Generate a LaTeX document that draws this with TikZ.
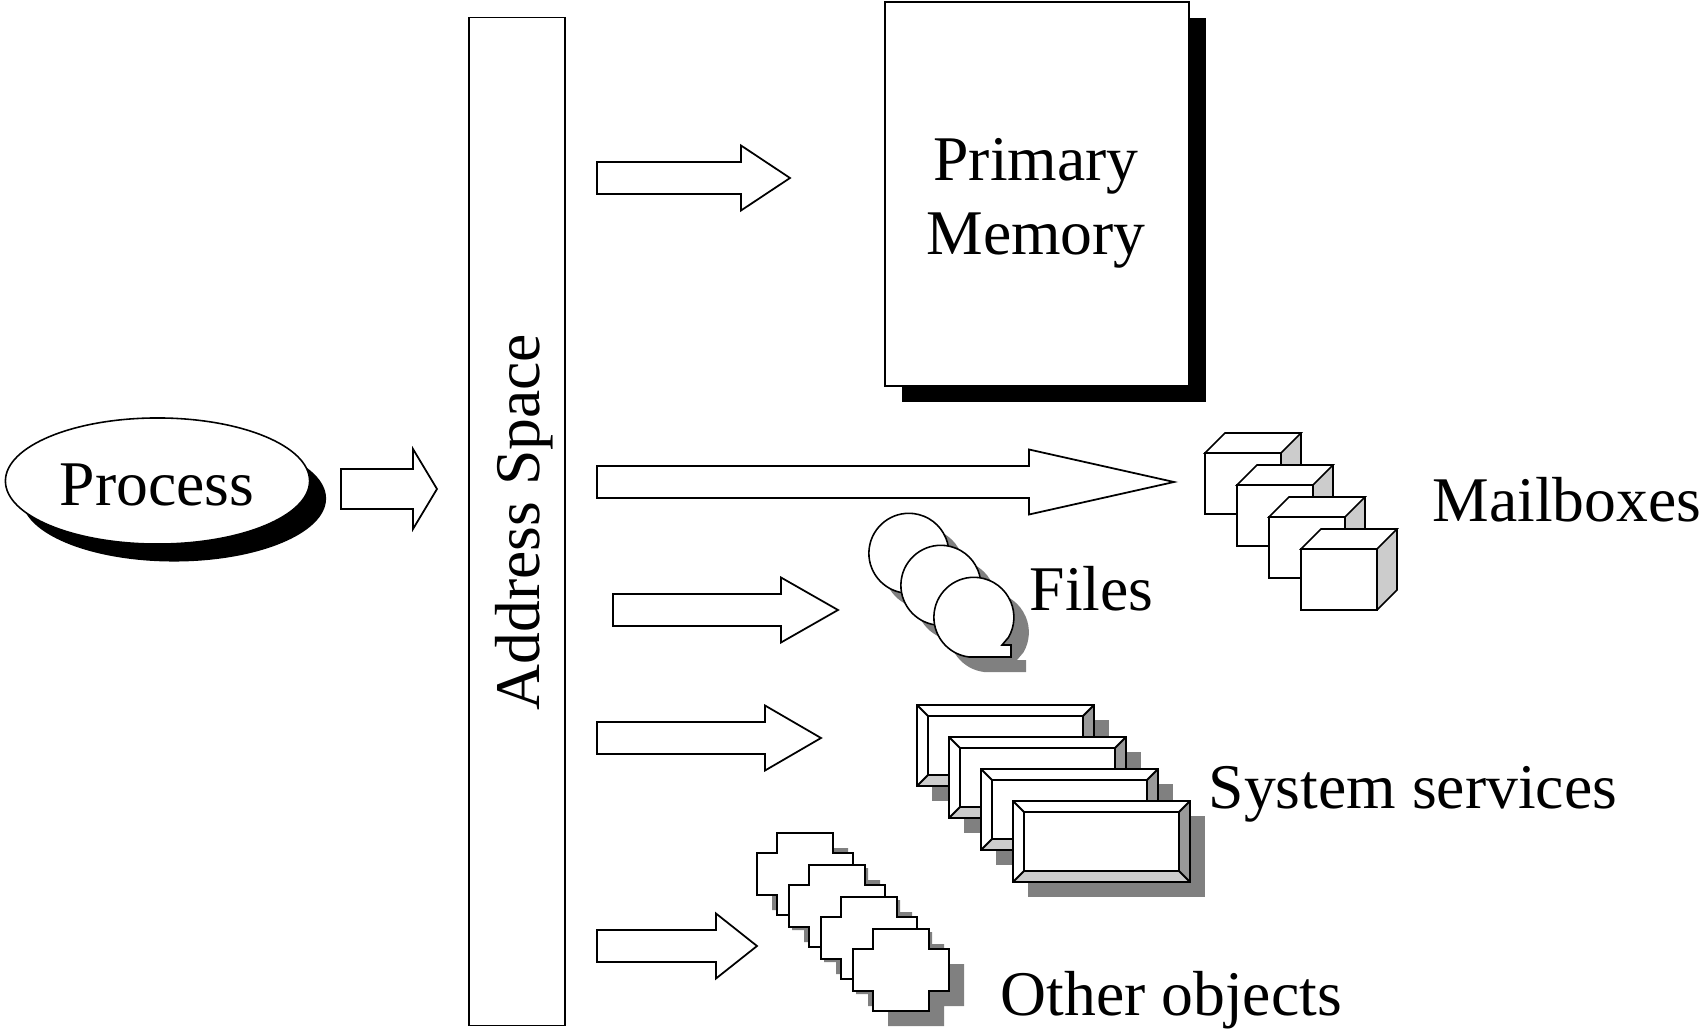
\documentclass[tikz,border=0pt]{standalone}
\usepackage{fontspec}
\setmainfont{Liberation Serif}
\usetikzlibrary{shapes.geometric}
\begin{document}
\begin{tikzpicture}
[x=0.01cm,y=0.01cm,
  line join=miter,
  outlinedecorate/.style={draw=black,line width=0.45pt,fill=white},
  framedecorate/.style={draw=black,line width=0.55pt},
  shadowdecorate/.style={fill=black!50},
  labeldecorate/.style={font=\fontsize{18.1}{21}\selectfont,inner sep=0pt}]
\useasboundingbox (0,0) rectangle (1701,-1031);
%% process and address space
\node (processshadow) at (174,-498.5) [ellipse,fill=black,minimum width=3.04cm,minimum height=1.26cm,inner sep=0pt] {};
\node (process) at (157.5,-481) [ellipse,outlinedecorate,minimum width=3.04cm,minimum height=1.26cm,inner sep=0pt] {};
\node (processlabel) at (157,-485) [labeldecorate] {Process};
\node (addressspace) at (517,-521.5) [rectangle,outlinedecorate,minimum width=0.96cm,minimum height=10.07cm,inner sep=0pt] {};
\node (addresslabel) at (524,-522) [rotate=90,labeldecorate] {Address Space};
%% primary memory
\node (memoryshadow) at (1054,-210) [rectangle,fill=black,minimum width=3.04cm,minimum height=3.84cm,inner sep=0pt] {};
\node (memory) at (1037,-194) [rectangle,outlinedecorate,minimum width=3.04cm,minimum height=3.84cm,inner sep=0pt] {};
\node (memorylabel) at (1036,-203) [labeldecorate,align=center] {Primary\\Memory};
%% block arrows
\foreach \xstart/\xhead/\xtip/\ymid/\shaft/\head in {
  341/413/437/489/20/40, 597/741/790/178/16/32.5, 597/1029/1174/482/16/32.5,
  613/781/838/610/16/32.5, 597/765/821/738/16/32.5, 597/716/757/946/16/32.5} {
  \draw[outlinedecorate,line width=0.5pt] (\xstart,-\ymid+\shaft) -- (\xhead,-\ymid+\shaft) -- (\xhead,-\ymid+\head)
    -- (\xtip,-\ymid) -- (\xhead,-\ymid-\head) -- (\xhead,-\ymid-\shaft) -- (\xstart,-\ymid-\shaft) -- cycle;
}
%% mailboxes
\foreach \x/\y in {1205/453, 1237/485, 1269/517, 1301/549} {
  \fill[black!20] (\x+76,-\y) -- (\x+96,-\y+20) -- (\x+96,-\y-41) -- (\x+76,-\y-61) -- cycle;
  \draw[outlinedecorate] (\x,-\y) rectangle (\x+76,-\y-61);
  \draw[outlinedecorate] (\x,-\y) -- (\x+20,-\y+20) -- (\x+96,-\y+20) -- (\x+76,-\y) -- cycle;
  \draw[framedecorate,line width=0.45pt] (\x+96,-\y+20) -- (\x+96,-\y-41) -- (\x+76,-\y-61);
}
%% files
\foreach \x/\y in {909/553, 941/585, 974/617} {
  \foreach \offset/\decorate in {15/shadowdecorate, 0/outlinedecorate} {
    \path[\decorate] (\x+\offset-5,-\y-\offset-40) arc[start angle=263,end angle=-30,radius=40]
      -- (\x+\offset+28,-\y-\offset-28) -- (\x+\offset+37,-\y-\offset-28) -- (\x+\offset+37,-\y-\offset-40) -- cycle;
  }
}
%% system services
\foreach \x/\y in {917/705, 949/737, 981/769, 1013/801} {
  \fill[shadowdecorate] (\x+15,-\y-15) rectangle (\x+192,-\y-96);
  \fill[white] (\x,-\y) rectangle (\x+177,-\y-81);
  \fill[black!40] (\x+177,-\y) -- (\x+166,-\y-11) -- (\x+166,-\y-70) -- (\x+177,-\y-81) -- cycle;
  \fill[black!20] (\x,-\y-81) -- (\x+11,-\y-70) -- (\x+166,-\y-70) -- (\x+177,-\y-81) -- cycle;
  \draw[framedecorate] (\x,-\y) rectangle (\x+177,-\y-81);
  \draw[framedecorate] (\x+11,-\y-11) rectangle (\x+166,-\y-70);
  \draw[framedecorate] (\x,-\y) -- (\x+11,-\y-11) (\x+177,-\y) -- (\x+166,-\y-11)
    (\x,-\y-81) -- (\x+11,-\y-70) (\x+177,-\y-81) -- (\x+166,-\y-70);
}
%% other objects
\foreach \x/\y in {805/874, 837/906, 869/938, 901/970} {
  \foreach \offset/\decorate in {15/shadowdecorate, 0/outlinedecorate} {
    \path[\decorate] (\x+\offset-28,-\y-\offset+41) -- (\x+\offset+28,-\y-\offset+41) -- (\x+\offset+28,-\y-\offset+21)
      -- (\x+\offset+48,-\y-\offset+21) -- (\x+\offset+48,-\y-\offset-21) -- (\x+\offset+28,-\y-\offset-21)
      -- (\x+\offset+28,-\y-\offset-41) -- (\x+\offset-28,-\y-\offset-41) -- (\x+\offset-28,-\y-\offset-21)
      -- (\x+\offset-48,-\y-\offset-21) -- (\x+\offset-48,-\y-\offset+21) -- (\x+\offset-28,-\y-\offset+21) -- cycle;
  }
}
%% labels
\foreach \nodename/\nodelabel/\x/\y in {
  mailboxes/Mailboxes/1432/500, files/Files/1029/589,
  services/System services/1208/794, objects/Other objects/1000/1000} {
  \node (\nodename) at (\x,-\y) [anchor=west,labeldecorate] {\nodelabel};
}
\end{tikzpicture}
\end{document}
